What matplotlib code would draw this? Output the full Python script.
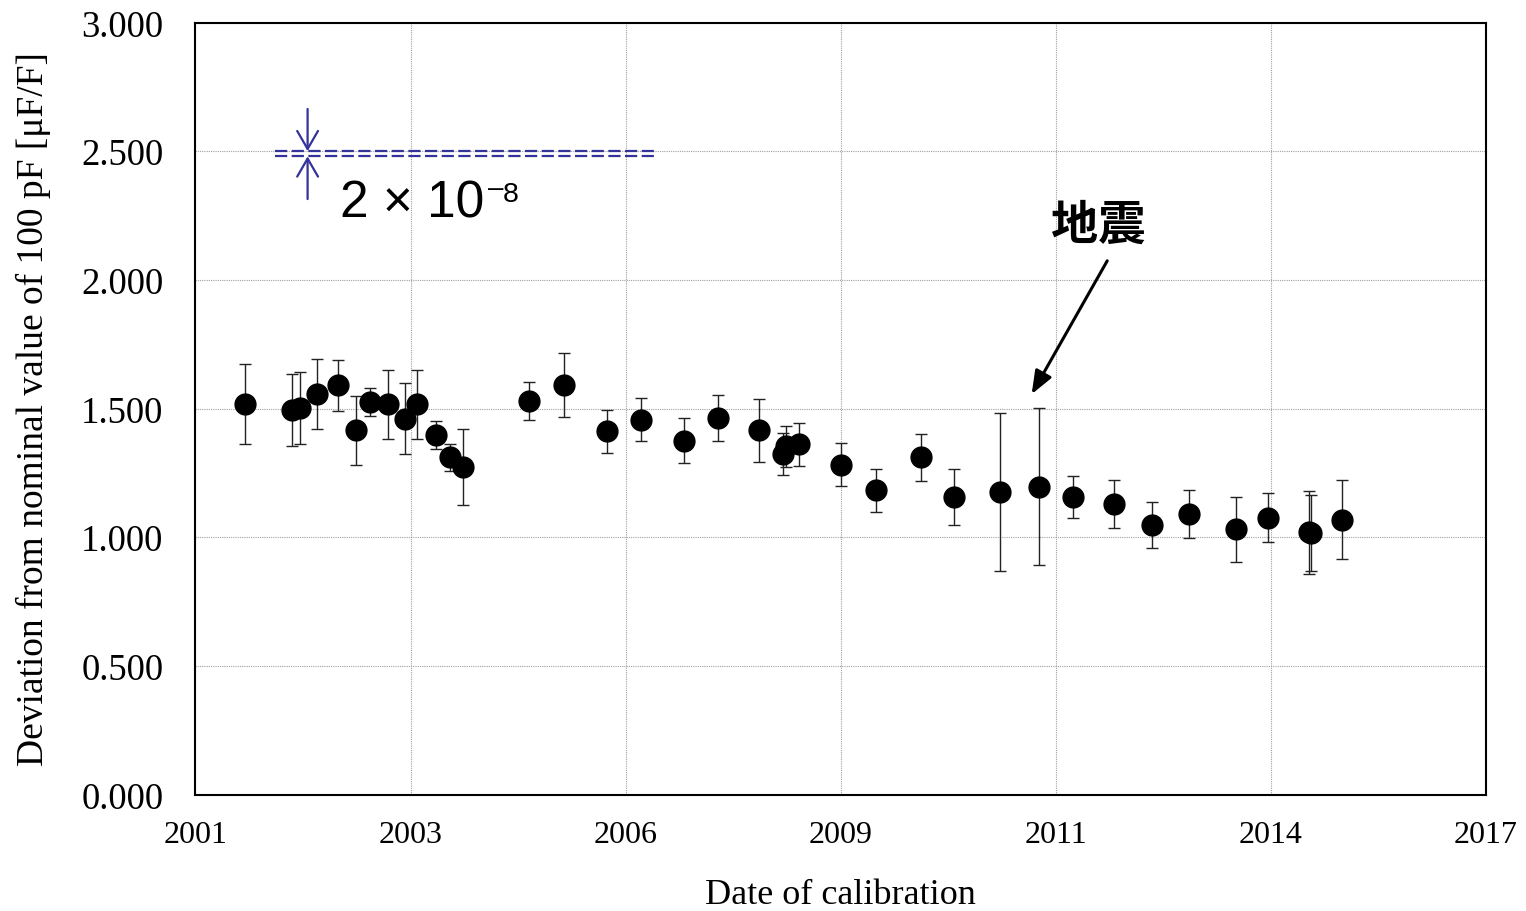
import matplotlib
matplotlib.use("Agg")
import matplotlib.pyplot as plt
import numpy as np

# Calibration history of a 100 pF capacitance standard (decimal years)
dates = [2001.614, 2002.193, 2002.299, 2002.506, 2002.767, 2002.990, 2003.160,
         2003.387, 2003.601, 2003.742, 2003.978, 2004.151, 2004.316, 2005.138,
         2005.569, 2006.098, 2006.523, 2007.056, 2007.478, 2007.990, 2008.280,
         2008.317, 2008.486, 2009.006, 2009.433, 2009.995, 2010.407, 2010.970,
         2011.458, 2011.883, 2012.387, 2012.855, 2013.321, 2013.900, 2014.293,
         2014.809, 2014.833, 2015.210]
deviation = [1.518, 1.494, 1.503, 1.556, 1.590, 1.416, 1.526, 1.516, 1.461, 1.516,
             1.398, 1.311, 1.273, 1.530, 1.593, 1.412, 1.457, 1.375, 1.463, 1.416,
             1.322, 1.354, 1.361, 1.282, 1.182, 1.310, 1.157, 1.177, 1.197, 1.156,
             1.129, 1.046, 1.089, 1.031, 1.076, 1.019, 1.017, 1.068]
uncertainty = [0.156, 0.139, 0.139, 0.136, 0.099, 0.134, 0.054, 0.135, 0.138, 0.135,
               0.055, 0.052, 0.147, 0.074, 0.124, 0.084, 0.084, 0.087, 0.088, 0.122,
               0.081, 0.080, 0.084, 0.084, 0.083, 0.091, 0.108, 0.307, 0.305, 0.083,
               0.094, 0.089, 0.094, 0.126, 0.094, 0.162, 0.147, 0.153]

x_tick_labels = ["2001", "2003", "2006", "2009", "2011", "2014", "2017"]
y_ticks = [0.0, 0.5, 1.0, 1.5, 2.0, 2.5, 3.0]

# scale bar showing a span of 2e-8 (0.02 uF/F)
scale_levels = [2.50, 2.48]
scale_span = [2001.99, 2006.70]
scale_arrow_x = 2002.39
quake_date = 2011.367
quake_level = 1.556

plt.rcParams["font.family"] = ["Liberation Serif", "DejaVu Serif"]

fig = plt.figure(figsize=(15.26, 9.12), dpi=100)
ax = fig.add_axes([0.1281, 0.1277, 0.8457, 0.8465])

ax.errorbar(dates, deviation, yerr=uncertainty, fmt="o", color="black",
            ecolor="#222222", elinewidth=1.0, capsize=4.5, capthick=1.0,
            markersize=15, zorder=3)

ax.set_xlim(2001, 2017)
ax.set_ylim(0, 3)
ax.set_xticks(np.linspace(2001, 2017, len(x_tick_labels)))
ax.set_xticklabels(x_tick_labels)
ax.set_yticks(y_ticks)
ax.set_yticklabels([f"{v:.3f}" for v in y_ticks])
ax.tick_params(axis="both", length=0)
ax.tick_params(axis="x", pad=18, labelsize=23)
ax.tick_params(axis="y", pad=23, labelsize=26.5)

ax.grid(True, color="#a0a0a0", linestyle=(0, (1, 1)), linewidth=0.8, zorder=0)
ax.set_axisbelow(True)
for s in ax.spines.values():
    s.set_linewidth(1.5)
    s.set_color("black")

ax.set_xlabel("Date of calibration", fontsize=26)
ax.xaxis.set_label_coords(0.5, -0.1085)
ax.set_ylabel("Deviation from nominal value of 100 pF [\u03bcF/F]", fontsize=27)
ax.yaxis.set_label_coords(-0.112, 0.5)

# scale bar (double dashed lines with opposing arrows)
blue = "#333399"
for lvl in scale_levels:
    ax.plot(scale_span, [lvl, lvl], color=blue, linewidth=1.6,
            linestyle=(0, (5.5, 2.0)), zorder=4)
head = "->,head_length=1.3,head_width=0.75"
ax.annotate("", xy=(scale_arrow_x, scale_levels[0]), xytext=(scale_arrow_x, 2.664),
            arrowprops=dict(arrowstyle=head, color=blue, lw=1.6, shrinkA=0,
                            shrinkB=0, mutation_scale=10))
ax.annotate("", xy=(scale_arrow_x, scale_levels[1]), xytext=(scale_arrow_x, 2.314),
            arrowprops=dict(arrowstyle=head, color=blue, lw=1.6, shrinkA=0,
                            shrinkB=0, mutation_scale=10))
ax.text(2002.79, 2.247, "2 \u00d7 10", fontsize=37, family="Liberation Sans",
        ha="left", va="baseline", zorder=5)
ax.text(2004.625, 2.331, "\u2013", fontsize=20, family="Liberation Sans",
        ha="left", va="baseline", zorder=5)
ax.text(2004.815, 2.3075, "8", fontsize=20.5, family="Liberation Sans",
        ha="left", va="baseline", zorder=5)

# earthquake marker
ax.text(2012.195, 2.213, "\u5730\u9707", fontsize=34, fontweight="bold",
        family=["Noto Sans CJK JP", "DejaVu Sans"], ha="center", va="center")
ax.annotate("", xy=(quake_date, quake_level), xytext=(2012.304, 2.074),
            arrowprops=dict(arrowstyle="-|>,head_length=1.4,head_width=0.55",
                            color="black", lw=2.2, shrinkA=0, shrinkB=0,
                            mutation_scale=10))

fig.savefig("out.png", dpi=100)
